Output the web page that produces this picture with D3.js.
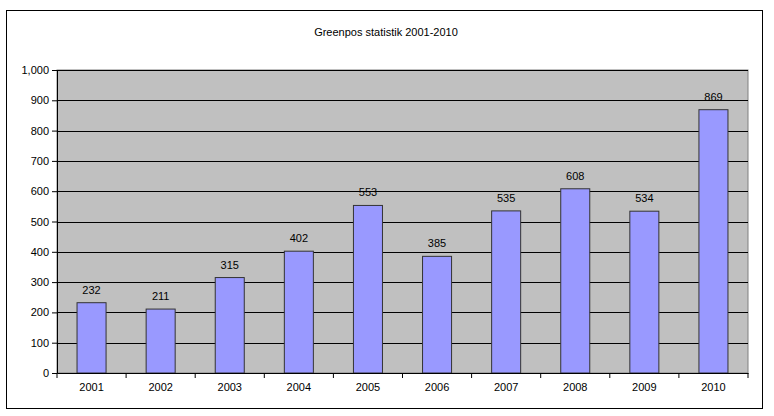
<!DOCTYPE html>
<html>
<head>
<meta charset="utf-8">
<script src="https://cdn.jsdelivr.net/npm/d3@7"></script>
<style>
  body { margin: 0; background: #fff; }
  text { font-family: "Liberation Sans", Arial, sans-serif; }
</style>
</head>
<body>
<svg id="chart" width="774" height="416"></svg>
<script>
const years = ["2001","2002","2003","2004","2005","2006","2007","2008","2009","2010"];
const counts = [232, 211, 315, 402, 553, 385, 535, 608, 534, 869];
const yTicks = [0,100,200,300,400,500,600,700,800,900,1000];

const margin = {top: 70, left: 57, right: 26, bottom: 43};
const width = 774 - margin.left - margin.right,
      height = 416 - margin.top - margin.bottom;

const svg = d3.select("#chart");

// outer frame
svg.append("rect")
    .attr("x", 6.5).attr("y", 10.5)
    .attr("width", 756).attr("height", 398)
    .attr("fill", "#fff").attr("stroke", "#000").attr("stroke-width", 1);

svg.append("text")
    .attr("x", 386).attr("y", 36)
    .attr("text-anchor", "middle")
    .style("font-size", "11px")
    .text("Greenpos statistik 2001-2010");

const g = svg.append("g")
    .attr("transform", `translate(${margin.left},${margin.top})`);

const x = d3.scaleBand().domain(years).range([0, width]).paddingInner(0.58).paddingOuter(0.29);
const y = d3.scaleLinear().domain([0, 1000]).range([height, 0]);

g.append("rect")
    .attr("width", width).attr("height", height)
    .attr("fill", "#c0c0c0").attr("stroke", "#808080");

g.selectAll(".grid")
    .data(yTicks.slice(1))
    .enter().append("line")
    .attr("x1", 0).attr("x2", width)
    .attr("y1", d => Math.round(y(d)) + 0.5).attr("y2", d => Math.round(y(d)) + 0.5)
    .attr("stroke", "#000");

g.selectAll(".bar")
    .data(counts)
    .enter().append("rect")
    .attr("x", (d, i) => x(years[i]))
    .attr("y", d => y(d))
    .attr("width", x.bandwidth())
    .attr("height", d => height - y(d))
    .attr("fill", "#9999ff")
    .attr("stroke", "#333").attr("stroke-width", 1);

g.selectAll(".lbl")
    .data(counts)
    .enter().append("text")
    .attr("x", (d, i) => x(years[i]) + x.bandwidth() / 2)
    .attr("y", d => y(d) - 9)
    .attr("text-anchor", "middle")
    .style("font-size", "11px")
    .text(d => d);

const yAxis = g.append("g")
    .call(d3.axisLeft(y).tickValues(yTicks).tickSize(5));
const xAxis = g.append("g")
    .attr("transform", `translate(0,${height})`)
    .call(d3.axisBottom(x).tickSize(0).tickPadding(10));

// category separator ticks
const step = x.step();
g.selectAll(".xt")
    .data(d3.range(years.length + 1))
    .enter().append("line")
    .attr("x1", i => i * step).attr("x2", i => i * step)
    .attr("y1", height).attr("y2", height + 5)
    .attr("stroke", "#000");

[yAxis, xAxis].forEach(a => {
    a.selectAll("text").style("font-size", "11px").attr("fill", "#000")
        .style("font-family", "Liberation Sans, Arial, sans-serif");
    a.select(".domain").attr("stroke", "#000");
});
</script>
</body>
</html>
